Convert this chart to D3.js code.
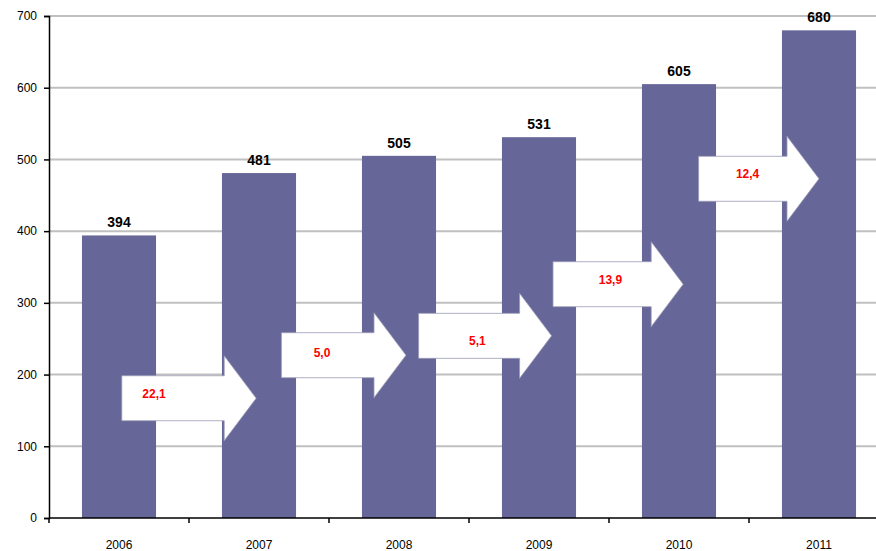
<!DOCTYPE html>
<html>
<head>
<meta charset="utf-8">
<script src="https://cdn.jsdelivr.net/npm/d3@7"></script>
<style>
  html, body { margin: 0; padding: 0; background: #fff; }
  svg { display: block; }
  text { font-family: "Liberation Sans", Arial, sans-serif; }
</style>
</head>
<body>
<svg id="chart" width="876" height="551"></svg>
<script>
// ---- data ----
const years = ["2006", "2007", "2008", "2009", "2010", "2011"];
const values = [394, 481, 505, 531, 605, 680];
const yTicks = [0, 100, 200, 300, 400, 500, 600, 700];
// growth arrows (percent change labels)
const growthLabels = ["22,1", "5,0", "5,1", "13,9", "12,4"];
// arrow placement in category-index units (start, tip) and value units (centre)
const arrowStart = [0.02, 1.16, 2.14, 3.10, 4.14];
const arrowTip = [0.98, 2.05, 3.09, 4.03, 5.00];
const arrowCenter = [167, 227, 254, 326, 473];
const labelPosX = [0.25, 1.45, 2.56, 3.51, 4.49];
const labelPosY = [174, 231, 248, 333, 481];

(function () {
// ---- layout ----
const svg = d3.select("#chart");
const mLeft = 49, mBottom = 518, mTop = 16, mRight = 889;

const x = d3.scaleBand().domain(years).range([mLeft, mRight])
  .paddingInner(0.471).paddingOuter(0.2355);
const y = d3.scaleLinear().domain([0, 700]).range([mBottom, mTop]);
const xi = d3.scaleLinear().domain([0, years.length - 1])
  .range([x(years[0]) + x.bandwidth() / 2, x(years[years.length - 1]) + x.bandwidth() / 2]);

// gridlines
svg.append("g").selectAll("line").data(yTicks.filter(d => d > 0)).join("line")
  .attr("x1", mLeft).attr("x2", 876)
  .attr("y1", d => y(d)).attr("y2", d => y(d))
  .attr("stroke", "#c0c0c0").attr("stroke-width", 2);

// bars
svg.append("g").selectAll("rect").data(values).join("rect")
  .attr("x", (d, i) => x(years[i]))
  .attr("y", d => y(d))
  .attr("width", x.bandwidth())
  .attr("height", d => y(0) - y(d))
  .attr("fill", "#666699");

// value labels
svg.append("g").selectAll("text").data(values).join("text")
  .attr("x", (d, i) => x(years[i]) + x.bandwidth() / 2)
  .attr("y", d => y(d) - 8)
  .attr("text-anchor", "middle")
  .attr("font-size", 14).attr("font-weight", "bold").attr("fill", "#000")
  .text(d => d);

// y axis
const yAxis = d3.axisLeft(y).tickValues(yTicks).tickSize(5).tickPadding(7);
const gy = svg.append("g").attr("transform", `translate(${mLeft},0)`).call(yAxis);
gy.select(".domain").attr("stroke", "#000").attr("stroke-width", 1.5);
gy.selectAll(".tick line").attr("stroke", "#000").attr("stroke-width", 1.5);
gy.selectAll(".tick text").attr("font-size", 12).attr("fill", "#000")
  .attr("font-family", "'Liberation Sans', Arial, sans-serif");

// x axis: line + ticks at category boundaries
const step = x.step();
const boundaries = d3.range(years.length + 1).map(i => mLeft + i * step);
const gx = svg.append("g");
gx.append("line").attr("x1", mLeft).attr("x2", 876)
  .attr("y1", mBottom).attr("y2", mBottom)
  .attr("stroke", "#000").attr("stroke-width", 1.5);
gx.selectAll("line.t").data(boundaries).join("line").attr("class", "t")
  .attr("x1", d => d).attr("x2", d => d)
  .attr("y1", mBottom).attr("y2", mBottom + 5)
  .attr("stroke", "#000").attr("stroke-width", 1.5);
gx.selectAll("text").data(years).join("text")
  .attr("x", d => x(d) + x.bandwidth() / 2)
  .attr("y", 549)
  .attr("text-anchor", "middle")
  .attr("font-size", 12).attr("fill", "#000")
  .text(d => d);

// growth arrows
const bodyH = 22.5, headH = 42.5, headL = 32;
const arrowPath = (i) => {
  const L = xi(arrowStart[i]), T = xi(arrowTip[i]), c = y(arrowCenter[i]);
  const pts = [[L, c - bodyH], [T - headL, c - bodyH], [T - headL, c - headH], [T, c],
               [T - headL, c + headH], [T - headL, c + bodyH], [L, c + bodyH]];
  return d3.line()(pts) + "Z";
};
const ga = svg.append("g");
ga.selectAll("path").data(growthLabels).join("path")
  .attr("d", (d, i) => arrowPath(i))
  .attr("fill", "#fff").attr("stroke", "#9a9ab8").attr("stroke-width", 0.8);
ga.selectAll("text").data(growthLabels).join("text")
  .attr("x", (d, i) => xi(labelPosX[i]))
  .attr("y", (d, i) => y(labelPosY[i]) + 4.5)
  .attr("text-anchor", "middle")
  .attr("font-size", 12).attr("font-weight", "bold").attr("fill", "#ff0000")
  .text(d => d);
})();
</script>
</body>
</html>
